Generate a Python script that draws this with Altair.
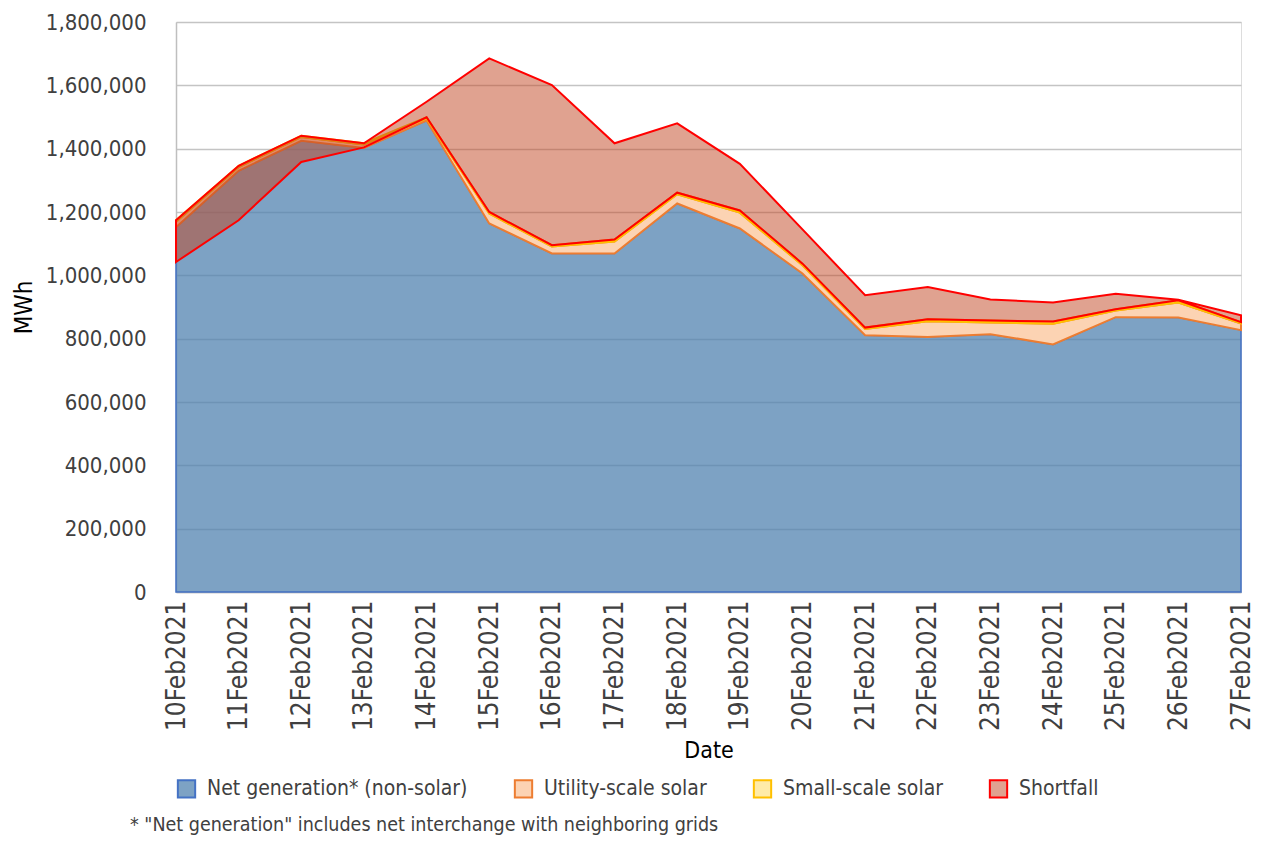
import altair as alt
import pandas as pd

dates = ["10Feb2021", "11Feb2021", "12Feb2021", "13Feb2021", "14Feb2021", "15Feb2021",
         "16Feb2021", "17Feb2021", "18Feb2021", "19Feb2021", "20Feb2021", "21Feb2021",
         "22Feb2021", "23Feb2021", "24Feb2021", "25Feb2021", "26Feb2021", "27Feb2021"]

net_generation = [1152000, 1330000, 1425000, 1402000, 1489000, 1164000, 1069000, 1069000, 1227000,
                  1148000, 1006000, 811000, 805000, 814000, 782000, 868000, 867000, 827000]
utility_solar = [17000, 12000, 12000, 11000, 7000, 31000, 22000, 38000, 29000,
                 50000, 26000, 20000, 50000, 37000, 65000, 21000, 47000, 21000]
small_solar = [5000, 4000, 4000, 4000, 3000, 5000, 4000, 6000, 5000,
               7000, 5000, 4000, 6000, 6000, 7000, 4000, 7000, 4000]
demand = [1042000, 1174000, 1358000, 1404000, 1548000, 1685000, 1601000, 1417000, 1480000,
          1352000, 1145000, 937000, 963000, 924000, 914000, 942000, 923000, 874000]

series_names = ["Net generation* (non-solar)", "Utility-scale solar", "Small-scale solar", "Shortfall"]
fill_colors = ["rgba(82,131,176,0.75)", "#FCD3B3", "#FFEBA8", "rgba(193,69,33,0.5)"]
stroke_colors = ["#4472C4", "#ED7D31", "#FFC000", "#FF0000"]
stroke_widths = [1.5, 2, 2, 2]
footnote = '* "Net generation" includes net interchange with neighboring grids'

rows = []
for i, d in enumerate(dates):
    n = net_generation[i]
    u = n + utility_solar[i]
    s = u + small_solar[i]
    rows.append({"date": d, "series": series_names[0], "low": 0, "high": n})
    rows.append({"date": d, "series": series_names[1], "low": n, "high": u})
    rows.append({"date": d, "series": series_names[2], "low": u, "high": s})
    rows.append({"date": d, "series": series_names[3], "low": min(s, demand[i]), "high": max(s, demand[i])})
df = pd.DataFrame(rows)

FONT = "DejaVu Sans Condensed, sans-serif"

fill_scale = alt.Scale(domain=series_names, range=fill_colors)
stroke_scale = alt.Scale(domain=series_names, range=stroke_colors)

x_enc = alt.X("date:O", sort=dates, scale=alt.Scale(type="point", padding=0),
              axis=alt.Axis(title="Date", labelAngle=-90, labelFontSize=26, labelColor="#404040",
                            labelPadding=8, ticks=False, domainColor="#BFBFBF", domainWidth=1.5,
                            titleFontSize=23, titleColor="#000000", titleFontWeight="normal",
                            titlePadding=9, labelFont=FONT, titleFont=FONT, labelBaseline="middle",
                            labelAlign="right"))
y_enc = alt.Y("low:Q", scale=alt.Scale(domain=[0, 1800000], nice=False),
              axis=alt.Axis(title="MWh", values=list(range(0, 1800001, 200000)), format=",d",
                            labelFontSize=22, labelColor="#404040", labelPadding=30, ticks=False,
                            domainColor="#BFBFBF", domainWidth=1.5, gridColor="#C4C4C4", gridWidth=1.5,
                            titleFontSize=24, titleColor="#000000", titleFontWeight="normal",
                            titlePadding=9, labelFont=FONT, titleFont=FONT))

layers = []
for i, name in enumerate(series_names):
    layer = alt.Chart(df).transform_filter(alt.datum.series == name).mark_area(
        strokeWidth=stroke_widths[i], strokeJoin="miter"
    ).encode(
        x=x_enc,
        y=y_enc,
        y2="high:Q",
        fill=alt.Fill("series:N", scale=fill_scale, title=None,
                      legend=alt.Legend(orient="none", legendX=0, legendY=756, direction="horizontal",
                                        symbolType="square", symbolSize=300, symbolStrokeWidth=2,
                                        labelFontSize=21, labelColor="#404040", labelFont=FONT,
                                        labelLimit=0, columnPadding=42, labelOffset=10, title=None)),
        stroke=alt.Stroke("series:N", scale=stroke_scale, title=None),
    )
    layers.append(layer)

chart = alt.layer(*layers).properties(
    width=1065,
    height=570,
    padding={"left": 168, "top": 14, "right": 16, "bottom": 246},
    autosize=alt.AutoSizeParams(type="none"),
    title=alt.Title(text=footnote, orient="bottom", anchor="start", frame="group", fontSize=19.5,
                    font=FONT, fontWeight="normal", color="#404040", dx=-46, offset=14),
).configure_view(stroke=None).configure(background="white")

chart.save("out.html", embed_options={"renderer": "svg", "actions": False})
